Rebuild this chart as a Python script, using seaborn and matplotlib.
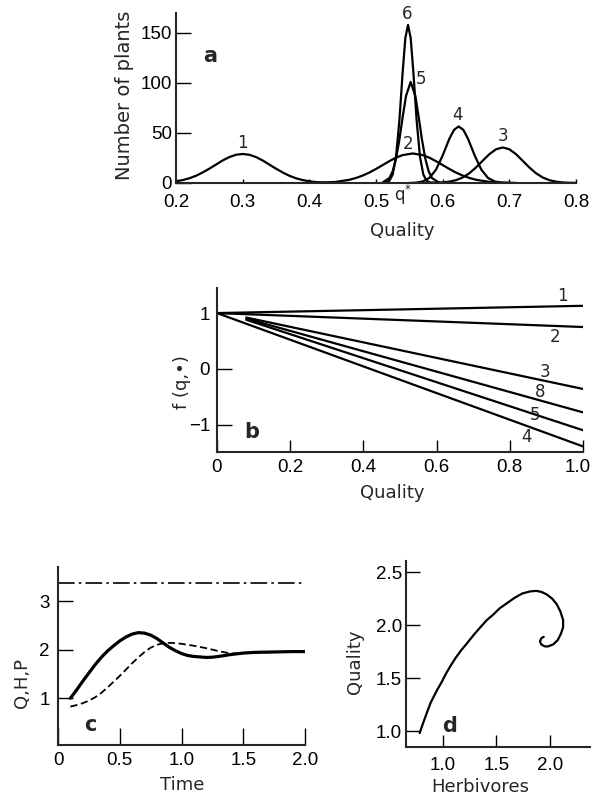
import matplotlib
matplotlib.use("Agg")
import matplotlib.pyplot as plt
import matplotlib.transforms as mtransforms
import seaborn as sns

# ---- panel a: number of plants vs quality (curves 1..6) ----
a1_x = [0.20, 0.21, 0.22, 0.23, 0.24, 0.25, 0.26, 0.27, 0.28, 0.29, 0.30, 0.31, 0.32, 0.33,
        0.34, 0.35, 0.36, 0.37, 0.38, 0.39, 0.40, 0.41, 0.42, 0.44, 0.46]
a1_y = [1.7, 2.9, 4.7, 7.2, 10.5, 14.3, 18.4, 22.5, 25.9, 28.2, 29, 28.2, 25.9, 22.5,
        18.4, 14.3, 10.5, 7.2, 4.7, 2.9, 1.7, 0.9, 0.5, 0.1, 0]
a2_x = [0.40, 0.42, 0.44, 0.46, 0.47, 0.48, 0.49, 0.50, 0.51, 0.52, 0.53, 0.54, 0.555, 0.57,
        0.58, 0.59, 0.60, 0.61, 0.62, 0.63, 0.64, 0.65, 0.67, 0.69, 0.71]
a2_y = [0.1, 0.3, 1.1, 3.2, 5.0, 7.4, 10.4, 14.0, 17.9, 21.8, 25.3, 27.9, 29.5, 27.9,
        25.3, 21.8, 17.9, 14.0, 10.4, 7.4, 5.0, 3.2, 1.1, 0.3, 0.1]
a3_x = [0.57, 0.58, 0.60, 0.61, 0.62, 0.63, 0.64, 0.65, 0.66, 0.67, 0.68, 0.69, 0.70, 0.71,
        0.72, 0.73, 0.74, 0.75, 0.76, 0.77, 0.78, 0.79, 0.80]
a3_y = [0, 0.1, 0.5, 1.3, 2.8, 5.5, 9.7, 15.5, 22.2, 28.8, 33.7, 35.5, 33.7, 28.8,
        22.2, 15.5, 9.7, 5.5, 2.8, 1.3, 0.5, 0.2, 0.1]
a4_x = [0.55, 0.56, 0.57, 0.58, 0.59, 0.60, 0.61, 0.617, 0.624, 0.631, 0.638, 0.648, 0.658,
        0.668, 0.678, 0.688, 0.70]
a4_y = [0, 0.3, 1.5, 5.0, 13.3, 27.5, 44.2, 53.1, 56.5, 53.1, 44.2, 27.5, 13.3,
        5.0, 1.5, 0.3, 0]
a5_x = [0.51, 0.52, 0.525, 0.53, 0.535, 0.54, 0.545, 0.552, 0.559, 0.564, 0.569, 0.574,
        0.579, 0.584, 0.594, 0.60]
a5_y = [0.5, 4.9, 11.6, 24.2, 43, 66, 87, 101, 87, 66, 43, 24.2,
        11.6, 4.9, 0.5, 0]
a6_x = [0.51, 0.515, 0.52, 0.525, 0.53, 0.535, 0.54, 0.544, 0.548, 0.552, 0.556, 0.561,
        0.566, 0.571, 0.576, 0.581, 0.59]
a6_y = [0, 0.4, 2.1, 8.4, 26, 62, 111, 145, 158, 145, 111, 62,
        26, 8.4, 2.1, 0.4, 0]
a_curves = [(a1_x, a1_y), (a2_x, a2_y), (a3_x, a3_y), (a4_x, a4_y), (a5_x, a5_y), (a6_x, a6_y)]
a_names = ["1", "2", "3", "4", "5", "6"]
a_name_x = [0.299, 0.548, 0.690, 0.622, 0.567, 0.547]
a_name_y = [40, 39, 47, 68, 104, 169]

# ---- panel b: f(q, .) lines ----
b_names = ["1", "2", "3", "8", "5", "4"]
b_x0 = [0.0, 0.0, 0.08, 0.08, 0.08, 0.0]
b_y0 = [1.0, 1.0, 0.92, 0.90, 0.88, 1.0]
b_x1 = [1.0, 1.0, 1.0, 1.0, 1.0, 1.0]
b_y1 = [1.13, 0.75, -0.36, -0.78, -1.10, -1.39]
b_name_x = [0.945, 0.923, 0.896, 0.883, 0.869, 0.847]
b_name_y = [1.30, 0.57, -0.05, -0.41, -0.82, -1.23]

# ---- panel c: Q, H, P against time ----
c_time_q = [0.10, 0.15, 0.20, 0.25, 0.30, 0.35, 0.40, 0.45, 0.50, 0.55, 0.60, 0.65, 0.70,
            0.75, 0.80, 0.85, 0.90, 0.95, 1.00, 1.05, 1.10, 1.15, 1.20, 1.25, 1.30, 1.35,
            1.40, 1.50, 1.60, 1.70, 1.80, 1.90, 2.00]
c_q = [1.00, 1.17, 1.35, 1.52, 1.69, 1.84, 1.97, 2.08, 2.18, 2.26, 2.32, 2.35, 2.34,
       2.30, 2.23, 2.14, 2.05, 1.98, 1.92, 1.88, 1.86, 1.85, 1.84, 1.845, 1.86, 1.88,
       1.90, 1.93, 1.945, 1.95, 1.955, 1.96, 1.96]
c_time_h = [0.10, 0.15, 0.20, 0.25, 0.30, 0.35, 0.40, 0.45, 0.50, 0.55, 0.60, 0.65, 0.70,
            0.75, 0.80, 0.85, 0.90, 0.95, 1.00, 1.10, 1.20, 1.30, 1.40, 1.50, 1.60, 1.80, 2.00]
c_h = [0.83, 0.86, 0.90, 0.95, 1.02, 1.11, 1.22, 1.34, 1.46, 1.59, 1.72, 1.84, 1.95,
       2.04, 2.10, 2.13, 2.14, 2.135, 2.12, 2.08, 2.03, 1.97, 1.92, 1.93, 1.94, 1.95, 1.96]
c_time_p = [0.0, 2.0]
c_p = [3.38, 3.38]

# ---- panel d: quality against herbivores (phase plane) ----
d_herb = [0.787, 0.81, 0.835, 0.86, 0.89, 0.92, 0.95, 0.99, 1.03, 1.07, 1.12, 1.17, 1.227,
          1.29, 1.35, 1.412, 1.47, 1.53, 1.60, 1.67, 1.74, 1.814, 1.87, 1.92, 1.97, 2.02,
          2.06, 2.095, 2.12, 2.12, 2.10, 2.07, 2.03, 1.98, 1.95, 1.915, 1.905, 1.92, 1.94]
d_qual = [0.98, 1.05, 1.12, 1.19, 1.27, 1.33, 1.39, 1.46, 1.54, 1.61, 1.69, 1.76, 1.83,
          1.91, 1.98, 2.05, 2.10, 2.16, 2.21, 2.26, 2.30, 2.32, 2.325, 2.315, 2.29, 2.25,
          2.20, 2.13, 2.05, 1.98, 1.92, 1.86, 1.82, 1.80, 1.80, 1.82, 1.85, 1.88, 1.89]

sns.set_style("ticks")
plt.rcParams["font.family"] = ["DejaVu Sans"]
plt.rcParams["font.size"] = 12.5

fig = plt.figure(figsize=(5.95, 7.99), dpi=100)
ax_a = fig.add_axes([0.2958, 0.7710, 0.6723, 0.2128])
ax_b = fig.add_axes([0.3647, 0.4343, 0.6151, 0.2053])
ax_c = fig.add_axes([0.0975, 0.0676, 0.4151, 0.2228])
ax_d = fig.add_axes([0.6824, 0.0647, 0.3092, 0.2335])

for ax in [ax_a, ax_b, ax_c, ax_d]:
    sns.despine(ax=ax)
    ax.spines["left"].set_linewidth(1.5)
    ax.spines["bottom"].set_linewidth(1.5)
    ax.tick_params(direction="in", width=1.0, colors="black", labelsize=13.5,
                   labelfontfamily="Liberation Sans")

# panel a
for (xs, ys) in a_curves:
    sns.lineplot(x=xs, y=ys, ax=ax_a, color="black", linewidth=1.6, sort=False, estimator=None)
for name, tx, ty in zip(a_names, a_name_x, a_name_y):
    ax_a.text(tx, ty, name, ha="center", va="center", fontsize=12)
ax_a.text(0.251, 127, "a", fontsize=15, fontweight="bold", ha="center", va="center")
ax_a.text(0.541, -12, r"q$^{*}$", fontsize=12, ha="center", va="center")
ax_a.set_xlim(0.2, 0.8)
ax_a.set_ylim(0, 170)
ax_a.set_xticks([0.2, 0.3, 0.4, 0.5, 0.6, 0.7, 0.8])
ax_a.set_xticklabels(["0.2", "0.3", "0.4", "0.5", "0.6", "0.7", "0.8"])
ax_a.set_yticks([0, 50, 100, 150])
ax_a.tick_params(axis="y", length=11, pad=3)
ax_a.tick_params(axis="x", length=3, pad=8)
ax_a.set_ylabel("Number of plants", fontsize=14, va="center")
ax_a.yaxis.set_label_coords(125 / 595, 1 - 95 / 799, transform=fig.transFigure)
ax_a.set_xlabel("Quality", fontsize=13, va="center")
ax_a.xaxis.set_label_coords(402 / 595, 1 - 231 / 799, transform=fig.transFigure)

# panel b
for x0, y0, x1, y1 in zip(b_x0, b_y0, b_x1, b_y1):
    sns.lineplot(x=[x0, x1], y=[y0, y1], ax=ax_b, color="black", linewidth=1.6)
for name, tx, ty in zip(b_names, b_name_x, b_name_y):
    ax_b.text(tx, ty, name, ha="center", va="center", fontsize=12)
ax_b.text(0.096, -1.14, "b", fontsize=15, fontweight="bold", ha="center", va="center")
ax_b.set_xlim(0, 1.0)
ax_b.set_ylim(-1.49, 1.45)
ax_b.set_xticks([0, 0.2, 0.4, 0.6, 0.8, 1.0])
ax_b.set_xticklabels(["0", "0.2", "0.4", "0.6", "0.8", "1.0"])
ax_b.set_yticks([1, 0, -1])
ax_b.set_yticklabels(["1", "0", "\u22121"])
ax_b.tick_params(axis="y", length=11, pad=5)
ax_b.tick_params(axis="x", length=9, pad=5)
ax_b.set_ylabel("f (q,\u2022)", fontsize=13, va="center")
ax_b.yaxis.set_label_coords(182 / 595, 1 - 382 / 799, transform=fig.transFigure)
ax_b.set_xlabel("Quality", fontsize=13, va="center")
ax_b.xaxis.set_label_coords(392 / 595, 1 - 493 / 799, transform=fig.transFigure)

# panel c
sns.lineplot(x=c_time_p, y=c_p, ax=ax_c, color="black", linewidth=1.2,
             linestyle=(0, (10, 2.5, 1.5, 2.5)))
sns.lineplot(x=c_time_h, y=c_h, ax=ax_c, color="black", linewidth=1.3,
             linestyle=(0, (4, 2)))
sns.lineplot(x=c_time_q, y=c_q, ax=ax_c, color="black", linewidth=2.3)
ax_c.text(0.265, 0.45, "c", fontsize=15, fontweight="bold", ha="center", va="center")
ax_c.set_xlim(0, 2.0)
ax_c.set_ylim(0.04, 3.7)
ax_c.set_xticks([0, 0.5, 1.0, 1.5, 2.0])
ax_c.set_xticklabels(["0", "0.5", "1.0", "1.5", "2.0"])
ax_c.set_yticks([1, 2, 3])
ax_c.tick_params(axis="y", length=11, pad=6)
ax_c.tick_params(axis="x", length=12, pad=5)
ax_c.set_ylabel("Q,H,P", fontsize=13, va="center")
ax_c.yaxis.set_label_coords(22 / 595, 1 - 683 / 799, transform=fig.transFigure)
ax_c.set_xlabel("Time", fontsize=13, va="center")
ax_c.xaxis.set_label_coords(182 / 595, 1 - 785 / 799, transform=fig.transFigure)

# panel d
sns.lineplot(x=d_herb, y=d_qual, ax=ax_d, color="black", linewidth=1.6, sort=False, estimator=None)
ax_d.text(1.06, 1.05, "d", fontsize=15, fontweight="bold", ha="center", va="center")
ax_d.set_xlim(0.66, 2.37)
ax_d.set_ylim(0.846, 2.61)
ax_d.set_xticks([1.0, 1.5, 2.0])
ax_d.set_xticklabels(["1.0", "1.5", "2.0"])
ax_d.set_yticks([1.0, 1.5, 2.0, 2.5])
ax_d.set_yticklabels(["1.0", "1.5", "2.0", "2.5"])
ax_d.tick_params(axis="y", length=10, pad=3)
ax_d.tick_params(axis="x", length=9, pad=7)
ax_d.set_ylabel("Quality", fontsize=13, va="center")
ax_d.yaxis.set_label_coords(355 / 595, 1 - 662 / 799, transform=fig.transFigure)
ax_d.set_xlabel("Herbivores", fontsize=13, va="center")
ax_d.xaxis.set_label_coords(480 / 595, 1 - 787 / 799, transform=fig.transFigure)

# nudge the last label of panel b so it stays inside the figure
last = ax_b.xaxis.get_major_ticks()[-1].label1
last.set_transform(last.get_transform()
                   + mtransforms.ScaledTranslation(-4 / 72, 0, fig.dpi_scale_trans))

fig.savefig("out.png", dpi=100)
